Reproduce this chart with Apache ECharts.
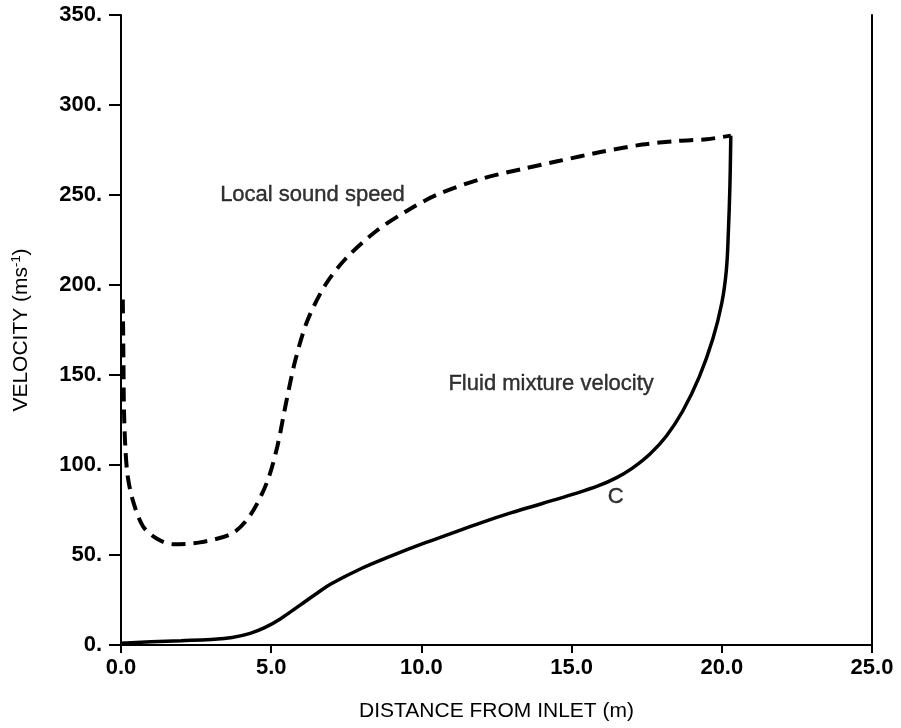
<!DOCTYPE html>
<html>
<head>
<meta charset="utf-8">
<script src="https://cdn.jsdelivr.net/npm/echarts@6/dist/echarts.min.js"></script>
<style>
  html, body { margin: 0; padding: 0; background: #fff; }
  #chart { width: 901px; height: 728px; }
</style>
</head>
<body>
<div id="chart"></div>
<script>
// Distance from inlet (m) and velocity (m/s) samples for each curve
const soundSpeedX = [0.06, 0.08, 0.1, 0.15, 0.23, 0.4, 0.73, 1.2, 1.73, 2.63, 3.7, 4.3, 4.85, 5.2, 5.5, 5.8, 6.2, 6.8, 7.5, 8.5, 9.5, 10.5, 12.0, 13.5, 14.6, 16.0, 17.35, 18.5, 19.5, 20.3];
const soundSpeedY = [192, 160, 130, 108, 93, 80, 66, 59, 56, 57, 62, 72, 90, 110, 135, 158, 180, 200, 215, 230, 241, 250, 259, 265, 269, 274, 278, 280, 281, 283];

const mixtureX = [0.0, 1.0, 2.0, 3.0, 3.7, 4.3, 4.8, 5.3, 5.95, 6.5, 7.0, 8.0, 9.0, 10.0, 11.0, 12.0, 13.0, 14.0, 15.0, 15.9, 16.5, 17.0, 17.6, 18.15, 18.7, 19.25, 19.7, 20.0, 20.15, 20.22, 20.27, 20.3];
const mixtureY = [1, 1.8, 2.4, 3.1, 4.2, 6.5, 9.8, 14.5, 22, 28.5, 34, 42.5, 49.5, 56, 62, 68, 73.5, 78.5, 83.5, 88.5, 93, 98, 106, 116, 130, 149, 170, 190, 208, 230, 255, 283];

const xTicks = [0, 5, 10, 15, 20, 25];
const yTicks = [0, 50, 100, 150, 200, 250, 300, 350];

const labels = [
  { text: 'Local sound speed', x: 3.3, y: 250 },
  { text: 'Fluid mixture velocity', x: 10.9, y: 145 },
  { text: 'C', x: 16.2, y: 82 }
];

const pair = (xs, ys) => xs.map((x, i) => [x, ys[i]]);

const chart = echarts.init(document.getElementById('chart'), null, { renderer: 'canvas' });

const textFont = 'Liberation Sans, Arial, sans-serif';
const tickFont = { fontFamily: textFont, fontWeight: 'bold', fontSize: 22, color: '#000' };

chart.setOption({
  animation: false,
  backgroundColor: '#fff',
  grid: { left: 121, right: 29, top: 15, bottom: 83, containLabel: false },
  xAxis: {
    type: 'value',
    min: xTicks[0], max: xTicks[xTicks.length - 1], interval: 5,
    name: 'DISTANCE FROM INLET (m)',
    nameLocation: 'middle', nameGap: 56,
    nameTextStyle: { fontFamily: textFont, fontSize: 21, color: '#000' },
    axisLine: { lineStyle: { color: '#000', width: 2 } },
    axisTick: { show: true, inside: false, length: 8, lineStyle: { color: '#000', width: 2 } },
    axisLabel: { ...tickFont, margin: 12, formatter: v => v.toFixed(1) },
    splitLine: { show: false }
  },
  yAxis: [{
    type: 'value',
    min: yTicks[0], max: yTicks[yTicks.length - 1], interval: 50,
    name: '{t|VELOCITY (ms}{s|-1}{t|)}',
    nameLocation: 'middle', nameGap: 88, nameRotate: 90,
    nameTextStyle: {
      rich: {
        t: { fontFamily: textFont, fontSize: 21, color: '#000' },
        s: { fontFamily: textFont, fontSize: 13, color: '#000', padding: [0, 0, 10, 0] }
      }
    },
    axisLine: { show: true, lineStyle: { color: '#000', width: 2 } },
    axisTick: { show: true, inside: false, length: 12, lineStyle: { color: '#000', width: 2 } },
    axisLabel: { ...tickFont, margin: 19, formatter: v => v.toFixed(0) + '.' },
    splitLine: { show: false }
  }, {
    type: 'value', position: 'right',
    min: yTicks[0], max: yTicks[yTicks.length - 1], interval: 50,
    axisLine: { show: true, lineStyle: { color: '#000', width: 2 } },
    axisTick: { show: false }, axisLabel: { show: false }, splitLine: { show: false }
  }],
  series: [{
    name: 'Local sound speed',
    type: 'line',
    data: pair(soundSpeedX, soundSpeedY),
    showSymbol: false, smooth: 0.3,
    lineStyle: { color: '#000', width: 4, type: [14, 8] }
  }, {
    name: 'Fluid mixture velocity',
    type: 'line',
    data: pair(mixtureX, mixtureY),
    showSymbol: false, smooth: 0.4,
    lineStyle: { color: '#000', width: 3.5 }
  }, {
    type: 'scatter',
    data: labels.map(l => ({ value: [l.x, l.y], name: l.text })),
    symbolSize: 0,
    label: {
      show: true, position: 'right', distance: 0,
      formatter: p => p.name,
      fontFamily: textFont, fontSize: 22, color: '#000',
      textBorderColor: '#000', textBorderWidth: 0.4
    },
    silent: true
  }]
});
</script>
</body>
</html>
